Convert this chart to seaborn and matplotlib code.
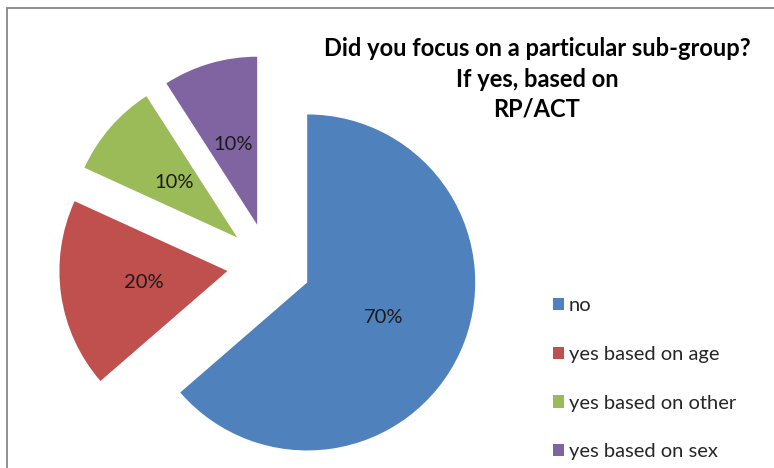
import matplotlib
matplotlib.use("Agg")
import matplotlib.pyplot as plt
import seaborn as sns
from matplotlib.patches import Rectangle

labels = ["no", "yes based on age", "yes based on other", "yes based on sex"]
values = [70, 20, 10, 10]
colors = ["#4F81BD", "#C0504D", "#9BBB59", "#8064A2"]
title_lines = ["Did you focus on a particular sub-group?", "If yes, based on", "RP/ACT"]

sns.set_style("white")
plt.rcParams["font.family"] = ["Lato", "DejaVu Sans"]

W, H = 774, 468
fig = plt.figure(figsize=(W / 100, H / 100), dpi=100)
ax = fig.add_axes([0, 0, 1, 1])

R = 168.0
cx, cy = 269.0, 265.0

wedges, texts, autotexts = ax.pie(
    values,
    colors=sns.color_palette(colors),
    startangle=90,
    counterclock=False,
    explode=[0.25] * len(values),
    autopct=lambda p: f"{p * sum(values) / 100:.0f}%",
    pctdistance=0.5,
    textprops={"fontsize": 14.5, "color": "#1a1a1a"},
    wedgeprops={"linewidth": 0},
)
ax.set_aspect("auto")
ax.set_xlim(-cx / R, (W - cx) / R)
ax.set_ylim(-(H - cy) / R, cy / R)
ax.axis("off")

for i, line in enumerate(title_lines):
    fig.text(537 / W, 1 - (49 + 30 * i) / H, line, ha="center", va="center",
             fontsize=17, fontweight="bold", color="black")

ax.legend(wedges, labels, loc="upper left", bbox_to_anchor=(553 / W, 1 - 297 / H),
          bbox_transform=fig.transFigure, frameon=False, fontsize=14.5,
          handlelength=0.55, handleheight=0.55, handletextpad=0.25,
          labelspacing=1.58, borderpad=0, borderaxespad=0)

fig.patches.append(Rectangle((7 / W, -0.1), 2, (H - 8) / H + 0.1, transform=fig.transFigure,
                             fill=False, edgecolor="#878787", linewidth=1.3))

fig.savefig("out.png", dpi=100)
